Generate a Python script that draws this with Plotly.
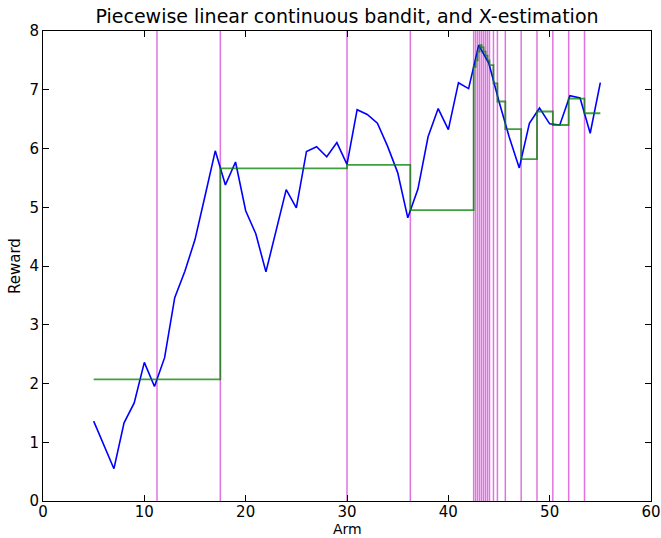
import plotly.graph_objects as go

# Noisy piecewise-linear reward observed at each integer arm
arms = list(range(5, 56))
reward = [1.36, 0.95, 0.55, 1.33, 1.67, 2.36, 1.95, 2.44, 3.46, 3.91,
          4.45, 5.20, 5.96, 5.38, 5.77, 4.94, 4.55, 3.90, 4.60, 5.30,
          4.99, 5.95, 6.03, 5.86, 6.10, 5.73, 6.66, 6.58, 6.43, 6.04,
          5.59, 4.82, 5.31, 6.20, 6.68, 6.32, 7.12, 7.02, 7.76, 7.45,
          6.80, 6.20, 5.67, 6.43, 6.69, 6.42, 6.40, 6.90, 6.86, 6.26,
          7.12]

# X-armed tree estimate: cell boundaries and mean reward per cell
cell_bounds = [5, 17.5, 30, 36.25, 42.5, 42.6953, 42.8906, 43.0859, 43.2813,
               43.4766, 43.6719, 43.8672, 44.0625, 44.4531, 44.8438, 45.625,
               47.1875, 48.75, 50.3125, 51.875, 53.4375, 55]
cell_means = [2.07, 5.66, 5.72, 4.95, 7.39, 7.50, 7.65, 7.76, 7.72, 7.65,
              7.58, 7.50, 7.42, 7.11, 6.80, 6.33, 5.82, 6.63, 6.40, 6.85,
              6.60]

# Split points chosen by the tree
splits = [11.25, 17.5, 30, 36.25, 42.5, 42.6953, 42.8906, 43.0859, 43.2813,
          43.4766, 43.6719, 43.8672, 44.0625, 44.4531, 44.8438, 45.625,
          47.1875, 48.75, 50.3125, 51.875, 53.4375]

y_range = [0, 8]

split_x, split_y = [], []
for s in splits:
    split_x += [s, s, None]
    split_y += [y_range[0], y_range[1], None]

fig = go.Figure()
fig.add_trace(go.Scatter(x=split_x, y=split_y, mode="lines",
                         line=dict(color="rgba(200,0,200,0.55)", width=1.5),
                         hoverinfo="skip", showlegend=False))
fig.add_trace(go.Scatter(x=arms, y=reward, mode="lines",
                         line=dict(color="#0000ff", width=1.6),
                         showlegend=False))
fig.add_trace(go.Scatter(x=cell_bounds, y=cell_means + [cell_means[-1]],
                         mode="lines", line_shape="hv",
                         line=dict(color="rgba(0,128,0,0.75)", width=1.8),
                         showlegend=False))

font_family = "DejaVu Sans"
axis_common = dict(showline=True, linecolor="black", linewidth=1, mirror="ticks",
                   ticks="inside", ticklen=6, tickcolor="black",
                   showgrid=False, zeroline=False, automargin=False,
                   ticklabeloverflow="allow",
                   tickfont=dict(family=font_family, size=15, color="black"))

fig.update_layout(
    width=661, height=538,
    margin=dict(l=42.5, r=9.5, t=31, b=36.5, autoexpand=False),
    paper_bgcolor="white", plot_bgcolor="white",
    title=dict(text="Piecewise linear continuous bandit, and X-estimation",
               x=0.5, xref="paper", y=1, yref="paper", yanchor="bottom",
               pad=dict(b=8),
               font=dict(family=font_family, size=19, color="black")),
    xaxis=dict(range=[0, 60], dtick=10, tick0=0, ticklabelstandoff=-3,
               **axis_common),
    yaxis=dict(range=y_range, dtick=1, tick0=0, **axis_common),
    annotations=[
        dict(text="Arm", xref="paper", yref="paper", x=0.5, y=0,
             xanchor="center", yanchor="bottom", yshift=-36.5, showarrow=False,
             borderpad=0,
             font=dict(family=font_family, size=14, color="black")),
        dict(text="Reward", xref="paper", yref="paper", x=0, y=0.5,
             xanchor="center", yanchor="middle", xshift=-28, textangle=-90,
             showarrow=False,
             font=dict(family=font_family, size=15, color="black")),
    ],
)

fig.write_html("out.html")
